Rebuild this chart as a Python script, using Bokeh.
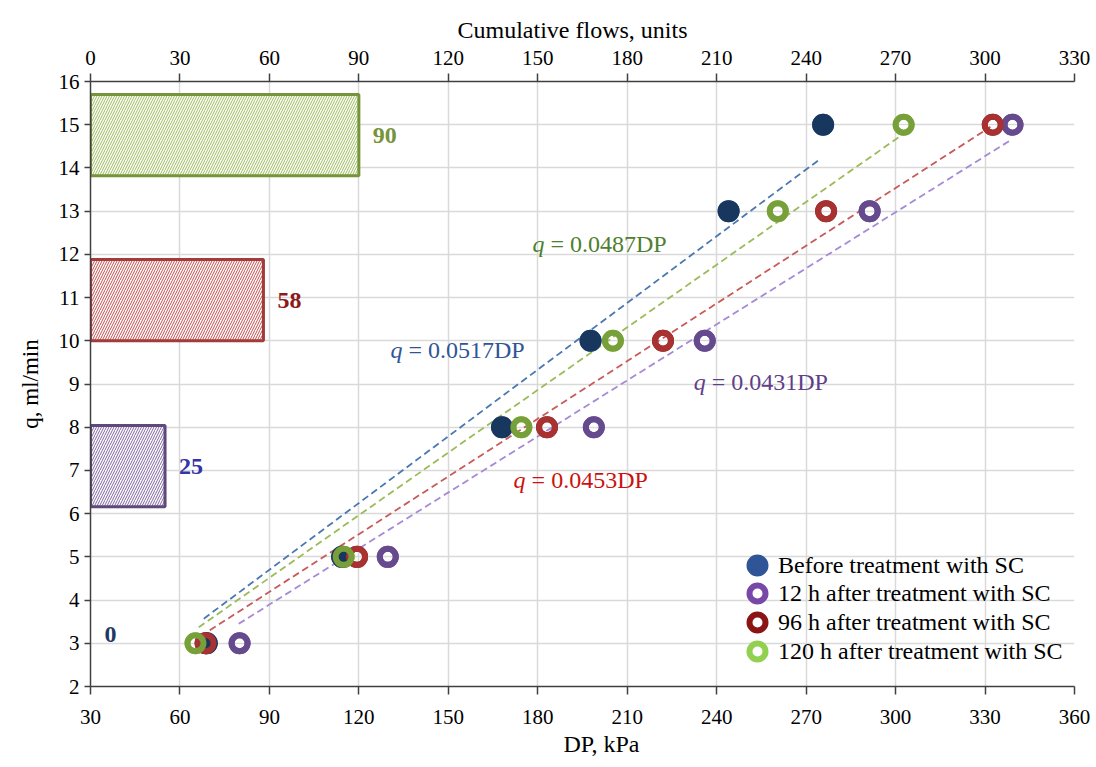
from bokeh.plotting import figure
from bokeh.models import Range1d, LinearAxis, Label, Legend, LegendItem, FixedTicker, Title
from bokeh.core.properties import value
from bokeh.embed import file_html
from bokeh.resources import INLINE

# ---------------- data ----------------
q_levels = [3, 5, 8, 10, 13, 15]                      # q, ml/min
dp_before = [69.0, 114.4, 168.0, 197.7, 244.0, 275.7]  # DP, kPa
dp_12h = [80.0, 129.7, 198.8, 236.0, 291.3, 339.2]
dp_96h = [68.6, 119.4, 183.1, 222.0, 276.7, 332.6]
dp_120h = [65.2, 114.9, 174.5, 205.2, 260.5, 302.7]

series_names = ["Before treatment with SC", "12 h after treatment with SC",
                "96 h after treatment with SC", "120 h after treatment with SC"]

# trend lines (before, 12 h, 96 h, 120 h)
trend_slopes = ["0.0517", "0.0431", "0.0453", "0.0487"]
trend_dp_start = [68.0, 79.7, 70.0, 66.3]
trend_q_start = [3.57, 3.45, 3.30, 3.37]
trend_dp_end = [274.2, 338.5, 331.8, 302.7]
trend_q_end = [14.18, 14.64, 14.95, 14.79]

# cumulative flows (bars on top axis)
flow_values = [0, 25, 58, 90]
flow_labels = ["0", "25", "58", "90"]

x_ticks = list(range(30, 361, 30))
top_ticks = list(range(0, 331, 30))
y_ticks = list(range(2, 17))

# ---------------- layout / styles ----------------
FONT = "Liberation Serif"
flow_band_centers = [3.2, 7.1, 10.94, 14.76]
flow_band_height = 1.88
bar_line_colors = ["#1F3864", "#5F497A", "#A33B3B", "#77933C"]
bar_hatch_colors = ["#1F3864", "#8064A2", "#C0504D", "#9BBB59"]
bar_label_colors = ["#1F3864", "#3434A8", "#8B1A1A", "#77933C"]

point_colors = ["#17375E", "#654A8E", "#A83232", "#77A03A"]
legend_colors = ["#2F5597", "#7848A8", "#8B1414", "#92D050"]
trend_colors = ["#4A78B0", "#A68AD6", "#C85A5A", "#9BBB59"]
eq_colors = ["#2F5597", "#5F3F8A", "#CC1111", "#4E7F2E"]

p = figure(width=1096, height=767, x_range=Range1d(30, 360), y_range=Range1d(2, 16),
           output_backend="svg", toolbar_location=None,
           min_border_left=90, min_border_right=22, min_border_top=81, min_border_bottom=81)
p.extra_x_ranges = {"flows": Range1d(0, 330)}
p.outline_line_color = None
p.background_fill_color = "white"

# grid
p.xgrid.ticker = FixedTicker(ticks=x_ticks)
p.ygrid.ticker = FixedTicker(ticks=y_ticks)
for g in (p.xgrid, p.ygrid):
    g.grid_line_color = "#D9D9D9"
    g.grid_line_width = 1.5

def style_axis(ax):
    ax.axis_line_color = "#404040"
    ax.axis_line_width = 1.5
    ax.major_tick_line_color = "#404040"
    ax.major_tick_line_width = 1.5
    ax.minor_tick_line_color = None
    ax.major_tick_in = 0
    ax.major_tick_out = 8
    ax.major_label_text_font = FONT
    ax.major_label_text_font_size = "21px"
    ax.major_label_text_color = "black"

xa = p.xaxis[0]
xa.ticker = FixedTicker(ticks=x_ticks)
style_axis(xa)
xa.major_label_standoff = 15

ya = p.yaxis[0]
ya.ticker = FixedTicker(ticks=y_ticks)
style_axis(ya)
ya.major_tick_out = 6
ya.major_label_standoff = 5
ya.axis_label = "q, ml/min"
ya.axis_label_standoff = 13
ya.axis_label_text_font = FONT
ya.axis_label_text_font_size = "23px"
ya.axis_label_text_font_style = "normal"
ya.axis_label_text_color = "black"

top = LinearAxis(x_range_name="flows", ticker=FixedTicker(ticks=top_ticks))
style_axis(top)
top.major_label_standoff = 9
p.add_layout(top, "above")

# x axis titles as side titles (left aligned with pixel offsets)
p.add_layout(Title(text="Cumulative flows, units", align="left", offset=367, standoff=9,
                   text_font=FONT, text_font_size="24px", text_font_style="normal",
                   text_color="black"), "above")
p.add_layout(Title(text="DP, kPa", align="left", offset=473, standoff=4,
                   text_font=FONT, text_font_size="24px", text_font_style="normal",
                   text_color="black"), "below")

# bars (cumulative flows)
for i, v in enumerate(flow_values):
    if v > 0:
        p.hbar(y=[flow_band_centers[i]], left=[0], right=[v], height=flow_band_height,
               x_range_name="flows", fill_color="white", line_color=bar_line_colors[i],
               line_width=3, hatch_pattern="/", hatch_color=bar_hatch_colors[i],
               hatch_scale=5, hatch_weight=1)
p.text(x=flow_values, y=flow_band_centers, text=flow_labels, x_range_name="flows",
       x_offset=14, text_align="left", text_baseline="middle",
       text_font=value(FONT), text_font_style="bold", text_font_size="24px",
       text_color=bar_label_colors)

# trend lines
p.segment(x0=trend_dp_start, y0=trend_q_start, x1=trend_dp_end, y1=trend_q_end,
          line_color=trend_colors, line_dash="7 4", line_width=1.8)

series_dp = [dp_before, dp_12h, dp_96h, dp_120h]

# legend-coloured copies (hidden exactly underneath the plotted points)
legend_renderers = []
for i, dp in enumerate(series_dp):
    if i == 0:
        r = p.scatter(dp, q_levels, size=16, fill_color=legend_colors[0],
                      line_color=legend_colors[0], line_width=6)
    else:
        r = p.scatter(dp, q_levels, size=16, fill_color=None,
                      line_color=legend_colors[i], line_width=6)
    legend_renderers.append(r)

# plotted points (draw order: before, 12 h, 96 h, 120 h)
for i, dp in enumerate(series_dp):
    if i == 0:
        p.scatter(dp, q_levels, size=16, fill_color=point_colors[0],
                  line_color=point_colors[0], line_width=6)
    else:
        p.scatter(dp, q_levels, size=16, fill_color=None,
                  line_color=point_colors[i], line_width=6)

# legend: one single-item legend per row so the row pitch stays tight
row_bottoms = [101, 73, 44, 15]
for i, name in enumerate(series_names):
    lg = Legend(items=[LegendItem(label=name, renderers=[legend_renderers[i]])],
                location=(647, row_bottoms[i]), glyph_width=40, glyph_height=40,
                label_height=20, spacing=0, label_standoff=1, padding=0, margin=0,
                label_text_font=FONT, label_text_font_size="24px", label_text_color="black",
                background_fill_alpha=0, border_line_alpha=0)
    p.add_layout(lg, "center")

# equation annotations
eq_pos = [(130.6, 9.78), (232.3, 9.04), (171.9, 6.77), (178.2, 12.25)]
for i, s in enumerate(trend_slopes):
    x, y = eq_pos[i]
    p.add_layout(Label(x=x, y=y, text="q", text_font=FONT, text_font_style="italic",
                       text_font_size="24px", text_color=eq_colors[i], text_baseline="middle"))
    p.add_layout(Label(x=x, y=y, x_offset=18, text="= " + s + "DP", text_font=FONT,
                       text_font_size="24px", text_color=eq_colors[i], text_baseline="middle"))

open("out.html", "w").write(file_html(p, INLINE))
